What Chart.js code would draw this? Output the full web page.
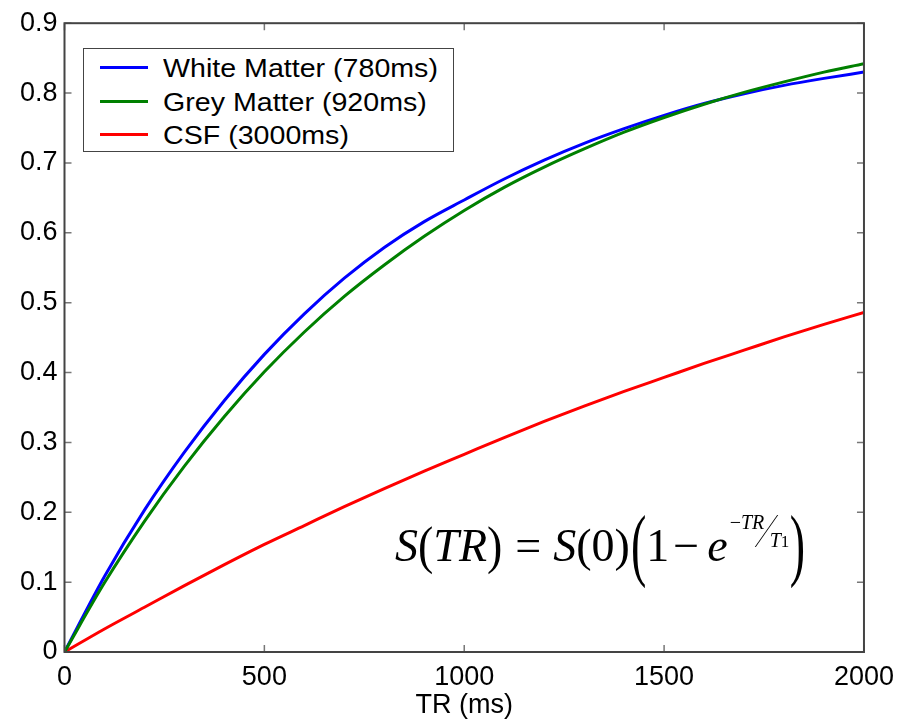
<!DOCTYPE html>
<html>
<head>
<meta charset="utf-8">
<script src="https://cdn.jsdelivr.net/npm/chart.js@4.4.1/dist/chart.umd.min.js"></script>
<style>
  body { margin: 0; background: #fff; }
  #wrap { position: relative; width: 903px; height: 725px; }
  #legend {
    position: absolute; left: 83px; top: 48px; width: 369px; height: 102px;
    border: 1.5px solid #444; background: #fff;
    font-family: 'Liberation Sans', Arial, sans-serif; font-size: 26px; color: #000;
  }
  #legend .row { position: absolute; left: 0; height: 34px; width: 100%; }
  #legend .ln { position: absolute; left: 16px; top: 15px; width: 48px; height: 3px; }
  #legend .tx { position: absolute; left: 79px; top: 0; line-height: 34px; white-space: nowrap;
    transform: scaleX(1.1); transform-origin: left center; }
  #eq {
    position: absolute; left: 395px; top: 523px; white-space: nowrap;
    font-family: 'Liberation Serif', 'Times New Roman', serif; font-size: 46px; line-height: 46px; color: #000;
  }
  #eq span { display: inline-block; }
  #eq .pm { transform: scaleY(1.15); }
  #eq .pb { transform: scaleY(1.75) translateY(-1px); }
  #eq .eqs { margin: 0 12px 0 13px; }
  #eq .minus { margin: 0 8px 0 4px; }
  #eq .pl { margin-left: 1px; }
  #eq .ex { position: relative; width: 62px; height: 0; }
  #eq .ex span { position: absolute; line-height: 1; }
  #eq .num { left: 2px; bottom: 29px; font-size: 20px; }
  #eq .sl { left: 38px; bottom: 14px; width: 0; height: 32px; border-left: 1.3px solid #000;
    transform: skewX(-35deg); }
  #eq .den { left: 42px; bottom: 11px; font-size: 20px; }
  #eq .den b { position: static !important; font-weight: normal; font-style: normal; font-size: 17px; }
</style>
</head>
<body>
<div id="wrap">
  <canvas id="chart"></canvas>
  <div id="legend"></div>
  <div id="eq"><i>S</i><span class="pm">(</span><i>TR</i><span class="pm">)</span><span class="eqs">=</span><i>S</i>(0)<span class="pb pl">(</span>1<span class="minus">−</span><i>e</i><span class="ex"><span class="num">−<i>TR</i></span><span class="sl"></span><span class="den"><i>T</i><b>1</b></span></span><span class="pb">)</span></div>
</div>
<script>
// repetition time (ms)
const trValues = [0, 100, 200, 300, 400, 500, 600, 700, 800, 900, 1000,
                  1100, 1200, 1300, 1400, 1500, 1600, 1700, 1800, 1900, 2000];

// signal
const whiteMatter = [0, 0.108, 0.203, 0.286, 0.360, 0.426, 0.484, 0.535, 0.579, 0.616, 0.647,
                     0.677, 0.704, 0.728, 0.749, 0.768, 0.785, 0.799, 0.811, 0.821, 0.830];
const greyMatter = [0, 0.099, 0.187, 0.266, 0.337, 0.401, 0.458, 0.509, 0.554, 0.595, 0.632,
                    0.665, 0.694, 0.720, 0.744, 0.765, 0.784, 0.801, 0.816, 0.830, 0.842];
const csf = [0, 0.033, 0.064, 0.095, 0.125, 0.154, 0.181, 0.208, 0.234, 0.259, 0.283,
             0.307, 0.330, 0.352, 0.373, 0.393, 0.413, 0.432, 0.451, 0.469, 0.486];

const seriesNames = ['White Matter (780ms)', 'Grey Matter (920ms)', 'CSF (3000ms)'];
const xTickLabels = ['0', '500', '1000', '1500', '2000'];
const yTickLabels = ['0', '0.1', '0.2', '0.3', '0.4', '0.5', '0.6', '0.7', '0.8', '0.9'];
const xTitle = 'TR (ms)';

function toPoints(vals) {
    return trValues.map((t, i) => ({ x: t, y: vals[i] }));
}

// box round the plot with inward ticks on all four sides
const frameTicks = {
    id: 'frameTicks',
    afterDatasetsDraw(chart) {
        const { ctx, chartArea: a, scales: { x, y } } = chart;
        const len = 7;
        ctx.save();
        ctx.strokeStyle = '#777';
        ctx.lineWidth = 1.5;
        ctx.beginPath();
        x.ticks.forEach(t => {
            const px = x.getPixelForValue(t.value);
            ctx.moveTo(px, a.bottom); ctx.lineTo(px, a.bottom - len);
            ctx.moveTo(px, a.top); ctx.lineTo(px, a.top + len);
        });
        y.ticks.forEach(t => {
            const py = y.getPixelForValue(t.value);
            ctx.moveTo(a.left, py); ctx.lineTo(a.left + len, py);
            ctx.moveTo(a.right, py); ctx.lineTo(a.right - len, py);
        });
        ctx.stroke();
        ctx.strokeStyle = '#444';
        ctx.lineWidth = 2;
        ctx.strokeRect(a.left, a.top, a.right - a.left, a.bottom - a.top);
        ctx.restore();
    }
};

const font = { family: "'Liberation Sans', Arial, sans-serif", size: 27 };

const datasets = [
    { label: seriesNames[0], data: toPoints(whiteMatter), borderColor: '#0000ff', order: 1 },
    { label: seriesNames[1], data: toPoints(greyMatter), borderColor: '#008000', order: 0 },
    { label: seriesNames[2], data: toPoints(csf), borderColor: '#ff0000', order: 2 }
].map(d => Object.assign(d, {
    borderWidth: 3, pointRadius: 0, fill: false, cubicInterpolationMode: 'monotone'
}));

new Chart(document.getElementById('chart'), {
    type: 'line',
    data: { datasets },
    options: {
        responsive: true,
        maintainAspectRatio: false,
        animation: false,
        layout: { padding: { top: 20, right: 36, left: 0, bottom: 0 } },
        plugins: { legend: { display: false }, tooltip: { enabled: false } },
        scales: {
            x: {
                type: 'linear', min: 0, max: 2000,
                grid: { display: false, drawTicks: false },
                border: { display: false },
                ticks: { stepSize: 500, color: '#000', font, padding: 9, maxRotation: 0,
                         callback: (v, i) => xTickLabels[i] },
                title: { display: true, text: xTitle, color: '#000', font, padding: { top: 0, bottom: 3 } },
                afterFit: s => { s.height = 73; }
            },
            y: {
                type: 'linear', min: 0, max: 0.9,
                grid: { display: false, drawTicks: false },
                border: { display: false },
                ticks: { stepSize: 0.1, color: '#000', font, padding: 7,
                         callback: (v, i) => yTickLabels[i] },
                afterFit: s => { s.width = 64.5; }
            }
        }
    },
    plugins: [frameTicks]
});

// legend box drawn over the plot, top-left
const legend = document.getElementById('legend');
datasets.forEach((d, i) => {
    const row = document.createElement('div');
    row.className = 'row';
    row.style.top = (2 + i * 33.5) + 'px';
    row.innerHTML = '<div class="ln" style="background:' + d.borderColor + '"></div>' +
                    '<div class="tx">' + d.label + '</div>';
    legend.appendChild(row);
});
</script>
</body>
</html>
